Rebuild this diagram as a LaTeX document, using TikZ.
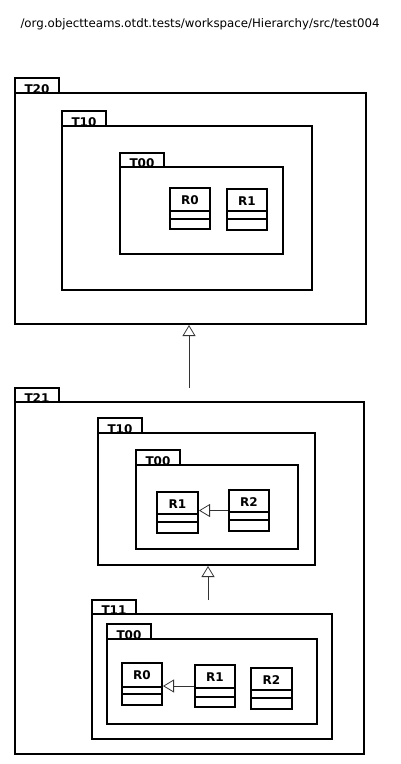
\documentclass[tikz,border=0pt]{standalone}
\usepackage{fontspec}
\setmainfont{DejaVu Sans}
\newfontfamily\lblfont{DejaVu Sans}
\usetikzlibrary{arrows.meta}
\tikzset{
  x=1pt, y=-1pt,
  pkgbody/.style={draw, line width=2pt, anchor=north west, inner sep=0pt},
  pkgtab/.style={draw, line width=2pt, anchor=north west, inner sep=0pt},
  tablabel/.style={font=\lblfont\bfseries\fontsize{12}{12}\selectfont, anchor=base, inner sep=0pt},
  clsbox/.style={draw, line width=2pt, anchor=north west, inner sep=0pt},
  clslabel/.style={font=\lblfont\bfseries\fontsize{12}{12}\selectfont, anchor=base, inner sep=0pt},
  sep/.style={line width=1.4pt},
  inh/.style={draw, line width=0.8pt, draw=black!80, -{Triangle[open, length=11pt, width=13pt, line width=0.8pt]}},
}
% package: name, x1, y1(body top), x2, y2, tab right, tab top, label
\newcommand{\mypkg}[8]{%
  \node[pkgbody, minimum width={#4-#2}, minimum height={#5-#3}] (#1) at (#2,#3) {};
  \node[pkgtab, minimum width={#6-#2}, minimum height={#3-#7}] (#1tab) at (#2,#7) {};
  \node[tablabel] (#1lbl) at ([yshift=1pt]#1tab.south) {#8};
}
% class: name, x1, y1, x2, y2, sep1, sep2, label
\newcommand{\mycls}[8]{%
  \node[clsbox, minimum width={#4-#2}, minimum height={#5-#3}] (#1) at (#2,#3) {};
  \draw[sep] (#2,#6) -- (#4,#6);
  \draw[sep] (#2,#7) -- (#4,#7);
  \node[clslabel] (#1lbl) at ([yshift=-17pt]#1.north) {#8};
}
\begin{document}
\begin{tikzpicture}
\useasboundingbox (0,0) rectangle (401,764);
\node[font=\fontsize{11.8}{13}\selectfont, anchor=base] (title) at (200,27) {/org.objectteams.otdt.tests/workspace/Hierarchy/src/test004};

\mypkg{T20}{14}{92}{365}{323}{58}{77}{T20}
\mypkg{T10a}{61}{125}{311}{289}{105}{110}{T10}
\mypkg{T00a}{119}{166}{282}{253}{163}{152}{T00}
\mycls{R0a}{169}{187}{209}{228}{211}{219}{R0}
\mycls{R1a}{226}{188}{266}{229}{211}{219}{R1}

\mypkg{T21}{14}{401}{363}{753}{58}{387}{T21}
\mypkg{T10b}{97}{432}{314}{564}{141}{417}{T10}
\mypkg{T00b}{135}{464}{297}{548}{179}{449}{T00}
\mycls{R1b}{156}{491}{197}{532}{514}{522}{R1}
\mycls{R2b}{228}{489}{268}{530}{512}{520}{R2}

\mypkg{T11}{91}{613}{331}{738}{135}{599}{T11}
\mypkg{T00c}{106}{638}{316}{723}{150}{623}{T00}
\mycls{R0c}{121}{662}{161}{704}{687}{694}{R0}
\mycls{R1c}{194}{664}{234}{706}{688}{697}{R1}
\mycls{R2c}{250}{667}{291}{708}{690}{698}{R2}

\coordinate (a1) at (189,388);
\coordinate (a2) at (208,600);
\draw[inh] (a1) -- (a1 |- T20.south);
\draw[inh] (a2) -- (a2 |- T10b.south);
\draw[inh] (R2b.west) -- (R1b.east |- R2b.west);
\draw[inh] (R1c.west) -- (R0c.east |- R1c.west);
\end{tikzpicture}
\end{document}
